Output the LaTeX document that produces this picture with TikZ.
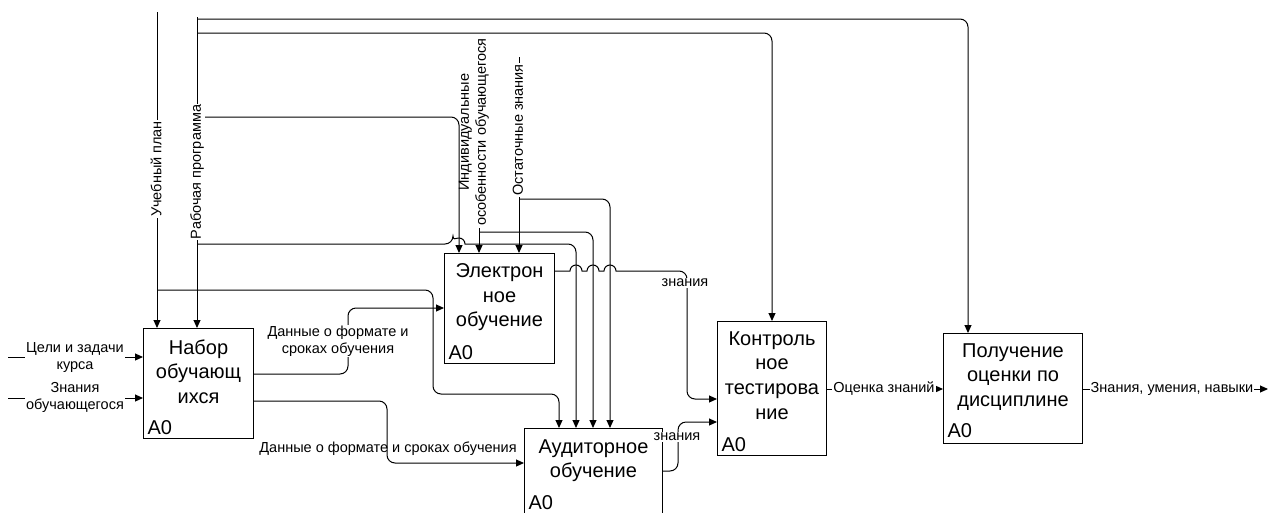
\documentclass[tikz,border=0pt]{standalone}
\usepackage{fontspec}
\setmainfont{Liberation Sans}
\usetikzlibrary{arrows.meta,calc}

\tikzset{every picture/.style={line width=1pt}}
\tikzset{
  func/.style={draw, rectangle, anchor=north west, inner sep=0pt},
  ftext/.style={anchor=north, align=center, inner sep=0pt, font=\fontsize{20}{24.6}\selectfont},
  fnum/.style={anchor=base west, inner sep=0pt, font=\fontsize{20}{24.6}\selectfont},
  lbl/.style={inner sep=1pt, align=center, font=\fontsize{14.5}{17}\selectfont},
  wlbl/.style={lbl, fill=white},
  flow/.style={-{Triangle[length=8pt,width=7pt]}, rounded corners=8pt},
}

\begin{document}
\begin{tikzpicture}[x=1pt,y=1pt,yscale=-1,xscale=1]
\useasboundingbox (0,0) rectangle (1272,512);

%Functions
\node[func, minimum width=110pt, minimum height=110pt] (nabor) at (143,328) {};
\node[func, minimum width=110pt, minimum height=110pt] (elek) at (444,253) {};
\node[func, minimum width=138pt, minimum height=85pt] (aud) at (524,428) {};
\node[func, minimum width=109pt, minimum height=134pt] (kontr) at (717,321) {};
\node[func, minimum width=139pt, minimum height=110pt] (poluch) at (943,333) {};

%Free ends
\coordinate (up) at (157,12);
\coordinate (rp) at (197,17);
\coordinate (ind) at (479,228);
\coordinate (ost) at (519,57);
\coordinate (in1) at (8,357);
\coordinate (in2) at (8,398);
\coordinate (out) at (1268,389);

%Controls
\draw[flow] (up) -- (up |- nabor.north);
\draw[flow] ($(up)+(0,278)$) -| (433,394) -| ($(aud.north west)+(35,0)$);
\draw[flow] (rp) -- (rp |- nabor.north);
\draw[flow] ($(rp)+(0,2)$) -| ($(poluch.north west)+(25,0)$);
\draw[flow] ($(rp)+(0,16)$) -| ($(kontr.north west)+(55,0)$);
\draw[flow] ($(rp)+(0,100)$) -| ($(elek.north west)+(15,0)$);
\draw[flow] ($(rp)+(0,227)$) -- (453,244) [sharp corners] arc[start angle=180, end angle=360, radius=6] [rounded corners=8pt] -| ($(aud.north west)+(52,0)$);
\draw[flow] (ind) -- (ind |- elek.north);
\draw[flow] ($(ind)+(0,4)$) -| ($(aud.north west)+(69,0)$);
\draw[flow] (ost) -- (ost |- elek.north);
\draw[flow] ($(ost)+(0,142)$) -| ($(aud.north west)+(86,0)$);

%Inputs and outputs
\draw[flow] (in1) -- (in1 -| nabor.west);
\draw[flow] (in2) -- (in2 -| nabor.west);
\draw[flow] ($(nabor.north east)+(0,46)$) -| (348,308) -- ($(elek.north west)+(0,55)$);
\draw[flow] ($(nabor.north east)+(0,73)$) -| (387,463) -- ($(aud.north west)+(0,35)$);
\draw[flow] ($(elek.north east)+(0,18)$) [sharp corners] -- (570,271) arc[start angle=180, end angle=360, radius=6] -- (587,271) arc[start angle=180, end angle=360, radius=6] -- (604,271) arc[start angle=180, end angle=360, radius=6] [rounded corners=8pt] -- (687,271) |- ($(kontr.north west)+(0,78)$);
\draw[flow] ($(aud.north east)+(0,43)$) -| (678,422) -- ($(kontr.north west)+(0,101)$);
\draw[flow] ($(kontr.north east)+(0,68)$) -- ($(poluch.north west)+(0,56)$);
\draw[flow] ($(poluch.north east)+(0,56)$) -- (out);

%Labels
\node[wlbl, rotate=90] (up-l) at (156,169) {Учебный план};
\node[wlbl, rotate=90] (rp-l) at (197,172) {Рабочая программа};
\node[lbl, rotate=90] (ind-l) at (474,132) {Индивидуальные\\особенности обучающегося};
\node[wlbl, rotate=90] (ost-l) at (518,130) {Остаточные знания};
\node[wlbl] (in1-l) at (75,358) {Цели и задачи\\курса};
\node[wlbl] (in2-l) at (75,397) {Знания\\обучающегося};
\node[wlbl] (d1-l) at (338,341) {Данные о формате и\\сроках обучения};
\node[lbl] (d2-l) at (388,449) {Данные о формате и сроках обучения};
\node[wlbl] (zn1-l) at (685,283) {знания};
\node[wlbl] (zn2-l) at (677,437) {знания};
\node[wlbl] (ocen-l) at (884,389) {Оценка знаний};
\node[wlbl] (zun-l) at (1172,389) {Знания, умения, навыки};

%Function names
\node[ftext] (nabor-t) at ($(nabor.north)+(0,11)$) {Набор\\обучающ\\ихся};
\node[fnum] (nabor-n) at ($(nabor.south west)+(4,-5)$) {A0};
\node[ftext] (elek-t) at ($(elek.north)+(0,10)$) {Электрон\\ное\\обучение};
\node[fnum] (elek-n) at ($(elek.south west)+(4,-5)$) {A0};
\node[ftext] (aud-t) at ($(aud.north)+(0,11)$) {Аудиторное\\обучение};
\node[fnum] (aud-n) at ($(aud.south west)+(4,-5)$) {A0};
\node[ftext] (kontr-t) at ($(kontr.north)+(0,10)$) {Контроль\\ное\\тестирова\\ние};
\node[fnum] (kontr-n) at ($(kontr.south west)+(4,-5)$) {A0};
\node[ftext] (poluch-t) at ($(poluch.north)+(0,10)$) {Получение\\оценки по\\дисциплине};
\node[fnum] (poluch-n) at ($(poluch.south west)+(4,-7)$) {A0};
\end{tikzpicture}
\end{document}
